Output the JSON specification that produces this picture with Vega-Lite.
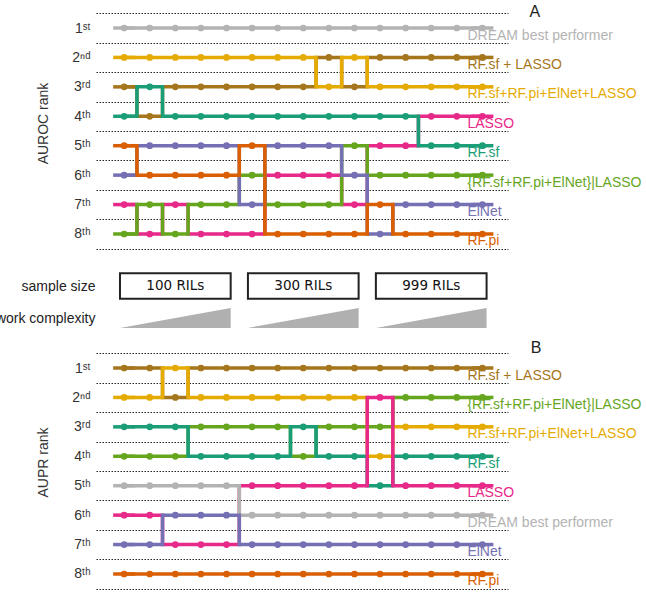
{
"$schema": "https://vega.github.io/schema/vega-lite/v6.json",
"width": 412,
"height": 595,
"autosize": {"type": "none"},
"padding": {"left": 96, "right": 138, "top": 0, "bottom": 0},
"background": "white",
"config": {"view": {"stroke": null}, "font": "Liberation Sans"},
"datasets": {
"auroc": [
{"method":"DREAM best performer","cond":1,"rank":1},{"method":"DREAM best performer","cond":2,"rank":1},{"method":"DREAM best performer","cond":3,"rank":1},{"method":"DREAM best performer","cond":4,"rank":1},{"method":"DREAM best performer","cond":5,"rank":1},{"method":"DREAM best performer","cond":6,"rank":1},{"method":"DREAM best performer","cond":7,"rank":1},{"method":"DREAM best performer","cond":8,"rank":1},{"method":"DREAM best performer","cond":9,"rank":1},{"method":"DREAM best performer","cond":10,"rank":1},{"method":"DREAM best performer","cond":11,"rank":1},{"method":"DREAM best performer","cond":12,"rank":1},{"method":"DREAM best performer","cond":13,"rank":1},{"method":"DREAM best performer","cond":14,"rank":1},{"method":"DREAM best performer","cond":15,"rank":1},
{"method":"RF.sf + LASSO","cond":1,"rank":3},{"method":"RF.sf + LASSO","cond":2,"rank":4},{"method":"RF.sf + LASSO","cond":3,"rank":3},{"method":"RF.sf + LASSO","cond":4,"rank":3},{"method":"RF.sf + LASSO","cond":5,"rank":3},{"method":"RF.sf + LASSO","cond":6,"rank":3},{"method":"RF.sf + LASSO","cond":7,"rank":3},{"method":"RF.sf + LASSO","cond":8,"rank":3},{"method":"RF.sf + LASSO","cond":9,"rank":2},{"method":"RF.sf + LASSO","cond":10,"rank":3},{"method":"RF.sf + LASSO","cond":11,"rank":2},{"method":"RF.sf + LASSO","cond":12,"rank":2},{"method":"RF.sf + LASSO","cond":13,"rank":2},{"method":"RF.sf + LASSO","cond":14,"rank":2},{"method":"RF.sf + LASSO","cond":15,"rank":2},
{"method":"RF.sf+RF.pi+ElNet+LASSO","cond":1,"rank":2},{"method":"RF.sf+RF.pi+ElNet+LASSO","cond":2,"rank":2},{"method":"RF.sf+RF.pi+ElNet+LASSO","cond":3,"rank":2},{"method":"RF.sf+RF.pi+ElNet+LASSO","cond":4,"rank":2},{"method":"RF.sf+RF.pi+ElNet+LASSO","cond":5,"rank":2},{"method":"RF.sf+RF.pi+ElNet+LASSO","cond":6,"rank":2},{"method":"RF.sf+RF.pi+ElNet+LASSO","cond":7,"rank":2},{"method":"RF.sf+RF.pi+ElNet+LASSO","cond":8,"rank":2},{"method":"RF.sf+RF.pi+ElNet+LASSO","cond":9,"rank":3},{"method":"RF.sf+RF.pi+ElNet+LASSO","cond":10,"rank":2},{"method":"RF.sf+RF.pi+ElNet+LASSO","cond":11,"rank":3},{"method":"RF.sf+RF.pi+ElNet+LASSO","cond":12,"rank":3},{"method":"RF.sf+RF.pi+ElNet+LASSO","cond":13,"rank":3},{"method":"RF.sf+RF.pi+ElNet+LASSO","cond":14,"rank":3},{"method":"RF.sf+RF.pi+ElNet+LASSO","cond":15,"rank":3},
{"method":"LASSO","cond":1,"rank":7},{"method":"LASSO","cond":2,"rank":8},{"method":"LASSO","cond":3,"rank":7},{"method":"LASSO","cond":4,"rank":8},{"method":"LASSO","cond":5,"rank":8},{"method":"LASSO","cond":6,"rank":8},{"method":"LASSO","cond":7,"rank":6},{"method":"LASSO","cond":8,"rank":6},{"method":"LASSO","cond":9,"rank":6},{"method":"LASSO","cond":10,"rank":7},{"method":"LASSO","cond":11,"rank":5},{"method":"LASSO","cond":12,"rank":5},{"method":"LASSO","cond":13,"rank":4},{"method":"LASSO","cond":14,"rank":4},{"method":"LASSO","cond":15,"rank":4},
{"method":"RF.sf","cond":1,"rank":4},{"method":"RF.sf","cond":2,"rank":3},{"method":"RF.sf","cond":3,"rank":4},{"method":"RF.sf","cond":4,"rank":4},{"method":"RF.sf","cond":5,"rank":4},{"method":"RF.sf","cond":6,"rank":4},{"method":"RF.sf","cond":7,"rank":4},{"method":"RF.sf","cond":8,"rank":4},{"method":"RF.sf","cond":9,"rank":4},{"method":"RF.sf","cond":10,"rank":4},{"method":"RF.sf","cond":11,"rank":4},{"method":"RF.sf","cond":12,"rank":4},{"method":"RF.sf","cond":13,"rank":5},{"method":"RF.sf","cond":14,"rank":5},{"method":"RF.sf","cond":15,"rank":5},
{"method":"{RF.sf+RF.pi+ElNet}|LASSO","cond":1,"rank":8},{"method":"{RF.sf+RF.pi+ElNet}|LASSO","cond":2,"rank":7},{"method":"{RF.sf+RF.pi+ElNet}|LASSO","cond":3,"rank":8},{"method":"{RF.sf+RF.pi+ElNet}|LASSO","cond":4,"rank":7},{"method":"{RF.sf+RF.pi+ElNet}|LASSO","cond":5,"rank":7},{"method":"{RF.sf+RF.pi+ElNet}|LASSO","cond":6,"rank":6},{"method":"{RF.sf+RF.pi+ElNet}|LASSO","cond":7,"rank":7},{"method":"{RF.sf+RF.pi+ElNet}|LASSO","cond":8,"rank":7},{"method":"{RF.sf+RF.pi+ElNet}|LASSO","cond":9,"rank":7},{"method":"{RF.sf+RF.pi+ElNet}|LASSO","cond":10,"rank":5},{"method":"{RF.sf+RF.pi+ElNet}|LASSO","cond":11,"rank":6},{"method":"{RF.sf+RF.pi+ElNet}|LASSO","cond":12,"rank":6},{"method":"{RF.sf+RF.pi+ElNet}|LASSO","cond":13,"rank":6},{"method":"{RF.sf+RF.pi+ElNet}|LASSO","cond":14,"rank":6},{"method":"{RF.sf+RF.pi+ElNet}|LASSO","cond":15,"rank":6},
{"method":"ElNet","cond":1,"rank":6},{"method":"ElNet","cond":2,"rank":5},{"method":"ElNet","cond":3,"rank":5},{"method":"ElNet","cond":4,"rank":5},{"method":"ElNet","cond":5,"rank":5},{"method":"ElNet","cond":6,"rank":7},{"method":"ElNet","cond":7,"rank":5},{"method":"ElNet","cond":8,"rank":5},{"method":"ElNet","cond":9,"rank":5},{"method":"ElNet","cond":10,"rank":6},{"method":"ElNet","cond":11,"rank":8},{"method":"ElNet","cond":12,"rank":7},{"method":"ElNet","cond":13,"rank":7},{"method":"ElNet","cond":14,"rank":7},{"method":"ElNet","cond":15,"rank":7},
{"method":"RF.pi","cond":1,"rank":5},{"method":"RF.pi","cond":2,"rank":6},{"method":"RF.pi","cond":3,"rank":6},{"method":"RF.pi","cond":4,"rank":6},{"method":"RF.pi","cond":5,"rank":6},{"method":"RF.pi","cond":6,"rank":5},{"method":"RF.pi","cond":7,"rank":8},{"method":"RF.pi","cond":8,"rank":8},{"method":"RF.pi","cond":9,"rank":8},{"method":"RF.pi","cond":10,"rank":8},{"method":"RF.pi","cond":11,"rank":7},{"method":"RF.pi","cond":12,"rank":8},{"method":"RF.pi","cond":13,"rank":8},{"method":"RF.pi","cond":14,"rank":8},{"method":"RF.pi","cond":15,"rank":8}
],
"aupr": [
{"method":"RF.sf + LASSO","cond":1,"rank":1},{"method":"RF.sf + LASSO","cond":2,"rank":1},{"method":"RF.sf + LASSO","cond":3,"rank":2},{"method":"RF.sf + LASSO","cond":4,"rank":1},{"method":"RF.sf + LASSO","cond":5,"rank":1},{"method":"RF.sf + LASSO","cond":6,"rank":1},{"method":"RF.sf + LASSO","cond":7,"rank":1},{"method":"RF.sf + LASSO","cond":8,"rank":1},{"method":"RF.sf + LASSO","cond":9,"rank":1},{"method":"RF.sf + LASSO","cond":10,"rank":1},{"method":"RF.sf + LASSO","cond":11,"rank":1},{"method":"RF.sf + LASSO","cond":12,"rank":1},{"method":"RF.sf + LASSO","cond":13,"rank":1},{"method":"RF.sf + LASSO","cond":14,"rank":1},{"method":"RF.sf + LASSO","cond":15,"rank":1},
{"method":"{RF.sf+RF.pi+ElNet}|LASSO","cond":1,"rank":4},{"method":"{RF.sf+RF.pi+ElNet}|LASSO","cond":2,"rank":4},{"method":"{RF.sf+RF.pi+ElNet}|LASSO","cond":3,"rank":4},{"method":"{RF.sf+RF.pi+ElNet}|LASSO","cond":4,"rank":3},{"method":"{RF.sf+RF.pi+ElNet}|LASSO","cond":5,"rank":3},{"method":"{RF.sf+RF.pi+ElNet}|LASSO","cond":6,"rank":3},{"method":"{RF.sf+RF.pi+ElNet}|LASSO","cond":7,"rank":3},{"method":"{RF.sf+RF.pi+ElNet}|LASSO","cond":8,"rank":4},{"method":"{RF.sf+RF.pi+ElNet}|LASSO","cond":9,"rank":3},{"method":"{RF.sf+RF.pi+ElNet}|LASSO","cond":10,"rank":3},{"method":"{RF.sf+RF.pi+ElNet}|LASSO","cond":11,"rank":3},{"method":"{RF.sf+RF.pi+ElNet}|LASSO","cond":12,"rank":2},{"method":"{RF.sf+RF.pi+ElNet}|LASSO","cond":13,"rank":2},{"method":"{RF.sf+RF.pi+ElNet}|LASSO","cond":14,"rank":2},{"method":"{RF.sf+RF.pi+ElNet}|LASSO","cond":15,"rank":2},
{"method":"RF.sf+RF.pi+ElNet+LASSO","cond":1,"rank":2},{"method":"RF.sf+RF.pi+ElNet+LASSO","cond":2,"rank":2},{"method":"RF.sf+RF.pi+ElNet+LASSO","cond":3,"rank":1},{"method":"RF.sf+RF.pi+ElNet+LASSO","cond":4,"rank":2},{"method":"RF.sf+RF.pi+ElNet+LASSO","cond":5,"rank":2},{"method":"RF.sf+RF.pi+ElNet+LASSO","cond":6,"rank":2},{"method":"RF.sf+RF.pi+ElNet+LASSO","cond":7,"rank":2},{"method":"RF.sf+RF.pi+ElNet+LASSO","cond":8,"rank":2},{"method":"RF.sf+RF.pi+ElNet+LASSO","cond":9,"rank":2},{"method":"RF.sf+RF.pi+ElNet+LASSO","cond":10,"rank":2},{"method":"RF.sf+RF.pi+ElNet+LASSO","cond":11,"rank":4},{"method":"RF.sf+RF.pi+ElNet+LASSO","cond":12,"rank":3},{"method":"RF.sf+RF.pi+ElNet+LASSO","cond":13,"rank":3},{"method":"RF.sf+RF.pi+ElNet+LASSO","cond":14,"rank":3},{"method":"RF.sf+RF.pi+ElNet+LASSO","cond":15,"rank":3},
{"method":"RF.sf","cond":1,"rank":3},{"method":"RF.sf","cond":2,"rank":3},{"method":"RF.sf","cond":3,"rank":3},{"method":"RF.sf","cond":4,"rank":4},{"method":"RF.sf","cond":5,"rank":4},{"method":"RF.sf","cond":6,"rank":4},{"method":"RF.sf","cond":7,"rank":4},{"method":"RF.sf","cond":8,"rank":3},{"method":"RF.sf","cond":9,"rank":4},{"method":"RF.sf","cond":10,"rank":4},{"method":"RF.sf","cond":11,"rank":5},{"method":"RF.sf","cond":12,"rank":4},{"method":"RF.sf","cond":13,"rank":4},{"method":"RF.sf","cond":14,"rank":4},{"method":"RF.sf","cond":15,"rank":4},
{"method":"LASSO","cond":1,"rank":6},{"method":"LASSO","cond":2,"rank":6},{"method":"LASSO","cond":3,"rank":7},{"method":"LASSO","cond":4,"rank":7},{"method":"LASSO","cond":5,"rank":7},{"method":"LASSO","cond":6,"rank":5},{"method":"LASSO","cond":7,"rank":5},{"method":"LASSO","cond":8,"rank":5},{"method":"LASSO","cond":9,"rank":5},{"method":"LASSO","cond":10,"rank":5},{"method":"LASSO","cond":11,"rank":2},{"method":"LASSO","cond":12,"rank":5},{"method":"LASSO","cond":13,"rank":5},{"method":"LASSO","cond":14,"rank":5},{"method":"LASSO","cond":15,"rank":5},
{"method":"DREAM best performer","cond":1,"rank":5},{"method":"DREAM best performer","cond":2,"rank":5},{"method":"DREAM best performer","cond":3,"rank":5},{"method":"DREAM best performer","cond":4,"rank":5},{"method":"DREAM best performer","cond":5,"rank":5},{"method":"DREAM best performer","cond":6,"rank":6},{"method":"DREAM best performer","cond":7,"rank":6},{"method":"DREAM best performer","cond":8,"rank":6},{"method":"DREAM best performer","cond":9,"rank":6},{"method":"DREAM best performer","cond":10,"rank":6},{"method":"DREAM best performer","cond":11,"rank":6},{"method":"DREAM best performer","cond":12,"rank":6},{"method":"DREAM best performer","cond":13,"rank":6},{"method":"DREAM best performer","cond":14,"rank":6},{"method":"DREAM best performer","cond":15,"rank":6},
{"method":"ElNet","cond":1,"rank":7},{"method":"ElNet","cond":2,"rank":7},{"method":"ElNet","cond":3,"rank":6},{"method":"ElNet","cond":4,"rank":6},{"method":"ElNet","cond":5,"rank":6},{"method":"ElNet","cond":6,"rank":7},{"method":"ElNet","cond":7,"rank":7},{"method":"ElNet","cond":8,"rank":7},{"method":"ElNet","cond":9,"rank":7},{"method":"ElNet","cond":10,"rank":7},{"method":"ElNet","cond":11,"rank":7},{"method":"ElNet","cond":12,"rank":7},{"method":"ElNet","cond":13,"rank":7},{"method":"ElNet","cond":14,"rank":7},{"method":"ElNet","cond":15,"rank":7},
{"method":"RF.pi","cond":1,"rank":8},{"method":"RF.pi","cond":2,"rank":8},{"method":"RF.pi","cond":3,"rank":8},{"method":"RF.pi","cond":4,"rank":8},{"method":"RF.pi","cond":5,"rank":8},{"method":"RF.pi","cond":6,"rank":8},{"method":"RF.pi","cond":7,"rank":8},{"method":"RF.pi","cond":8,"rank":8},{"method":"RF.pi","cond":9,"rank":8},{"method":"RF.pi","cond":10,"rank":8},{"method":"RF.pi","cond":11,"rank":8},{"method":"RF.pi","cond":12,"rank":8},{"method":"RF.pi","cond":13,"rank":8},{"method":"RF.pi","cond":14,"rank":8},{"method":"RF.pi","cond":15,"rank":8}
],
"groups": [
{"sample":"100 RILs","center":3},
{"sample":"300 RILs","center":8},
{"sample":"999 RILs","center":13}
],
"panels": [
{"panel":"A"}
],
"panelsB": [
{"panel":"B"}
]
},
"resolve": {"scale": {"y": "independent"}},
"layer": [
{
"data": {"name": "auroc"},
"mark": {"type": "line", "interpolate": "step", "strokeWidth": 3.5},
"encoding": {
"x": {"field": "cond", "type": "quantitative", "scale": {"domain": [-0.1, 16], "nice": false, "zero": false}, "axis": null},
"y": {"field": "rank", "type": "quantitative",
"scale": {"domain": [0.5, 8.5], "range": [13.3, 248.7], "nice": false, "zero": false},
"axis": {"orient": "left", "values": [0.5,1,1.5,2,2.5,3,3.5,4,4.5,5,5.5,6,6.5,7,7.5,8,8.5],
"domain": false, "ticks": false, "grid": true,
"gridColor": "#222", "gridDash": [1.5, 1.5], "gridWidth": 1.2,
"gridOpacity": {"condition": {"test": "datum.value % 1 != 0", "value": 1}, "value": 0},
"labelExpr": "datum.value % 1 != 0 ? '' : datum.value == 1 ? '1ˢᵗ' : datum.value == 2 ? '2ⁿᵈ' : datum.value == 3 ? '3ʳᵈ' : datum.value + 'ᵗʰ'",
"labelOverlap": false,
"labelFont": "Liberation Sans", "labelFontSize": 14, "labelColor": "#333", "labelPadding": 6,
"title": "AUROC rank", "titleFont": "Liberation Sans", "titleFontSize": 14, "titleFontWeight": "normal", "titleColor": "#333", "titleX": -46, "titleY": 123}},
"color": {"field": "method", "type": "nominal", "legend": null,
"scale": {"domain": ["DREAM best performer","RF.sf + LASSO","RF.sf+RF.pi+ElNet+LASSO","LASSO","RF.sf","{RF.sf+RF.pi+ElNet}|LASSO","ElNet","RF.pi"],
"range": ["#b3b3b3","#a6761d","#e6ab02","#e7298a","#1b9e77","#66a61e","#7570b3","#d95f02"]}}
}
},
{
"data": {"name": "auroc"},
"transform": [{"filter": "datum.cond == 1 || datum.cond == 15"}],
"mark": {"type": "tick", "orient": "horizontal", "size": 22, "thickness": 3.5, "opacity": 1},
"encoding": {
"x": {"field": "cond", "type": "quantitative", "axis": null},
"y": {"field": "rank", "type": "quantitative", "scale": {"domain": [0.5, 8.5], "range": [13.3, 248.7], "nice": false, "zero": false}, "axis": null},
"color": {"field": "method", "type": "nominal", "legend": null}
}
},
{
"data": {"name": "auroc"},
"mark": {"type": "point", "filled": true, "size": 45, "opacity": 1},
"encoding": {
"x": {"field": "cond", "type": "quantitative", "axis": null},
"y": {"field": "rank", "type": "quantitative", "scale": {"domain": [0.5, 8.5], "range": [13.3, 248.7], "nice": false, "zero": false}, "axis": null},
"color": {"field": "method", "type": "nominal", "legend": null}
}
},
{
"data": {"name": "auroc"},
"transform": [{"filter": "datum.cond == 15"}],
"mark": {"type": "text", "align": "left", "baseline": "middle", "dx": -15, "dy": 7.5, "fontSize": 14, "font": "Liberation Sans"},
"encoding": {
"x": {"field": "cond", "type": "quantitative", "axis": null},
"y": {"field": "rank", "type": "quantitative", "scale": {"domain": [0.5, 8.5], "range": [13.3, 248.7], "nice": false, "zero": false}, "axis": null},
"color": {"field": "method", "type": "nominal", "legend": null},
"text": {"field": "method"}
}
},
{
"data": {"name": "panels"},
"mark": {"type": "text", "fontSize": 16, "color": "#222", "align": "center", "baseline": "middle"},
"encoding": {
"x": {"datum": 17.05, "type": "quantitative", "axis": null},
"y": {"datum": 0.45, "type": "quantitative", "scale": {"domain": [0.5, 8.5], "range": [13.3, 248.7], "nice": false, "zero": false}, "axis": null},
"text": {"field": "panel"}
}
},
{
"data": {"name": "groups"},
"mark": {"type": "point", "shape": "M -1 -0.232 L 1 -0.232 L 1 0.232 L -1 0.232 Z", "size": 12254, "filled": false, "color": "#222", "strokeWidth": 2, "opacity": 1},
"encoding": {
"x": {"field": "center", "type": "quantitative", "axis": null},
"y": {"datum": "sample size", "type": "nominal",
"scale": {"type": "point", "domain": ["sample size", "network complexity"], "range": [286, 318], "padding": 0},
"axis": {"orient": "left", "domain": false, "ticks": false, "grid": false, "labelPadding": 1,
"labelFont": "Liberation Sans", "labelFontSize": 14, "labelColor": "#222", "title": null, "labelLimit": 300}}
}
},
{
"data": {"name": "groups"},
"mark": {"type": "text", "font": "DejaVu Sans", "fontSize": 13.5, "color": "#111", "align": "center", "baseline": "middle"},
"encoding": {
"x": {"field": "center", "type": "quantitative", "axis": null},
"y": {"datum": "sample size", "type": "nominal", "scale": {"type": "point", "domain": ["sample size", "network complexity"], "range": [286, 318], "padding": 0}, "axis": null},
"text": {"field": "sample"}
}
},
{
"data": {"name": "groups"},
"mark": {"type": "point", "shape": "M -1 0.18 L 1 0.18 L 1 -0.18 Z", "size": 12254, "filled": true, "color": "#b0b0b0", "opacity": 1, "strokeWidth": 0},
"encoding": {
"x": {"field": "center", "type": "quantitative", "axis": null},
"y": {"datum": "network complexity", "type": "nominal", "scale": {"type": "point", "domain": ["sample size", "network complexity"], "range": [286, 318], "padding": 0}, "axis": null}
}
},
{
"data": {"name": "aupr"},
"mark": {"type": "line", "interpolate": "step", "strokeWidth": 3.5},
"encoding": {
"x": {"field": "cond", "type": "quantitative", "axis": null},
"y": {"field": "rank", "type": "quantitative",
"scale": {"domain": [0.5, 8.5], "range": [353.3, 588.7], "nice": false, "zero": false},
"axis": {"orient": "left", "values": [0.5,1,1.5,2,2.5,3,3.5,4,4.5,5,5.5,6,6.5,7,7.5,8,8.5],
"domain": false, "ticks": false, "grid": true,
"gridColor": "#222", "gridDash": [1.5, 1.5], "gridWidth": 1.2,
"gridOpacity": {"condition": {"test": "datum.value % 1 != 0", "value": 1}, "value": 0},
"labelExpr": "datum.value % 1 != 0 ? '' : datum.value == 1 ? '1ˢᵗ' : datum.value == 2 ? '2ⁿᵈ' : datum.value == 3 ? '3ʳᵈ' : datum.value + 'ᵗʰ'",
"labelOverlap": false,
"labelFont": "Liberation Sans", "labelFontSize": 14, "labelColor": "#333", "labelPadding": 6,
"title": "AUPR rank", "titleFont": "Liberation Sans", "titleFontSize": 14, "titleFontWeight": "normal", "titleColor": "#333", "titleX": -46, "titleY": 462}},
"color": {"field": "method", "type": "nominal", "legend": null}
}
},
{
"data": {"name": "aupr"},
"transform": [{"filter": "datum.cond == 1 || datum.cond == 15"}],
"mark": {"type": "tick", "orient": "horizontal", "size": 22, "thickness": 3.5, "opacity": 1},
"encoding": {
"x": {"field": "cond", "type": "quantitative", "axis": null},
"y": {"field": "rank", "type": "quantitative", "scale": {"domain": [0.5, 8.5], "range": [353.3, 588.7], "nice": false, "zero": false}, "axis": null},
"color": {"field": "method", "type": "nominal", "legend": null}
}
},
{
"data": {"name": "aupr"},
"mark": {"type": "point", "filled": true, "size": 45, "opacity": 1},
"encoding": {
"x": {"field": "cond", "type": "quantitative", "axis": null},
"y": {"field": "rank", "type": "quantitative", "scale": {"domain": [0.5, 8.5], "range": [353.3, 588.7], "nice": false, "zero": false}, "axis": null},
"color": {"field": "method", "type": "nominal", "legend": null}
}
},
{
"data": {"name": "aupr"},
"transform": [{"filter": "datum.cond == 15"}],
"mark": {"type": "text", "align": "left", "baseline": "middle", "dx": -15, "dy": 7.5, "fontSize": 14, "font": "Liberation Sans"},
"encoding": {
"x": {"field": "cond", "type": "quantitative", "axis": null},
"y": {"field": "rank", "type": "quantitative", "scale": {"domain": [0.5, 8.5], "range": [353.3, 588.7], "nice": false, "zero": false}, "axis": null},
"color": {"field": "method", "type": "nominal", "legend": null},
"text": {"field": "method"}
}
},
{
"data": {"name": "panelsB"},
"mark": {"type": "text", "fontSize": 16, "color": "#222", "align": "center", "baseline": "middle"},
"encoding": {
"x": {"datum": 17.1, "type": "quantitative", "axis": null},
"y": {"datum": 0.33, "type": "quantitative", "scale": {"domain": [0.5, 8.5], "range": [353.3, 588.7], "nice": false, "zero": false}, "axis": null},
"text": {"field": "panel"}
}
}
]
}
